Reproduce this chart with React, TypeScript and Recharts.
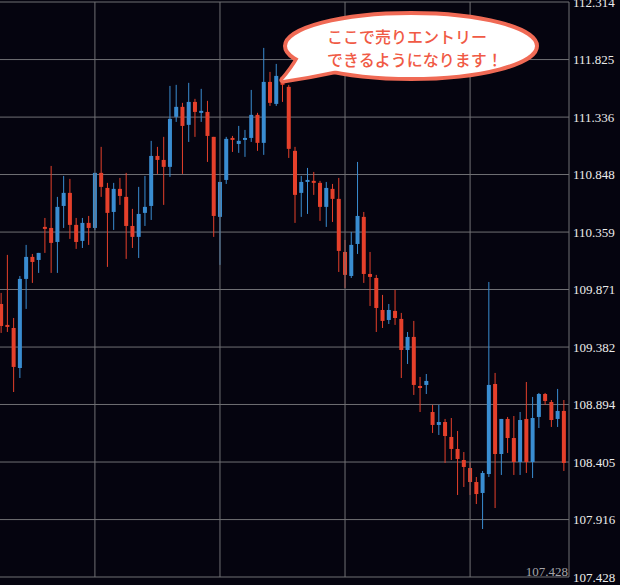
import React from 'react';
import { BarChart, Bar, XAxis, YAxis, CartesianGrid, ReferenceLine } from 'recharts';

// USD/JPY style candles
const opens = [
  109.748, 109.570, 109.544, 109.204, 109.961, 110.148, 110.122, 110.403, 110.394, 110.275,
  110.581, 110.692, 110.420, 110.284, 110.437, 110.394, 110.862, 110.734, 110.530, 110.726,
  110.658, 110.411, 110.318, 110.522, 110.581, 111.006, 110.972, 110.913, 111.338, 111.423,
  111.270, 111.465, 111.372, 111.380, 111.168, 110.488, 110.802, 111.159, 111.108, 111.142,
  111.159, 111.355, 111.117, 111.635, 111.448, 111.678, 111.593, 111.049, 110.692, 110.785,
  110.794, 110.777, 110.573, 110.726, 110.641, 110.190, 109.986, 110.258, 110.488, 110.003,
  109.969, 109.697, 109.612, 109.689, 109.621, 109.357, 109.468, 109.051, 109.060, 108.830,
  108.720, 108.745, 108.618, 108.516, 108.422, 108.354, 108.235, 108.142, 108.303, 109.068,
  108.473, 108.771, 108.609, 108.405, 108.771, 108.405, 108.788, 108.983, 108.915, 108.771,
  108.839,
];

const highs = [
  109.842, 110.165, 109.629, 109.986, 110.250, 110.173, 110.182, 110.479, 110.921, 110.658,
  110.836, 110.811, 110.479, 110.479, 110.496, 110.862, 111.083, 110.777, 110.777, 110.819,
  110.862, 110.556, 110.743, 110.836, 111.134, 111.083, 111.168, 111.601, 111.610, 111.457,
  111.627, 111.491, 111.576, 111.474, 111.168, 110.785, 111.168, 111.176, 111.261, 111.227,
  111.567, 111.372, 111.924, 111.720, 111.788, 111.680, 111.610, 111.083, 110.836, 110.904,
  110.870, 110.794, 110.785, 110.768, 110.819, 110.292, 110.360, 110.955, 110.530, 110.190,
  109.995, 109.825, 109.748, 109.867, 109.672, 109.510, 109.604, 109.128, 109.153, 108.890,
  108.890, 108.771, 108.779, 108.669, 108.490, 108.405, 108.278, 108.329, 109.935, 109.162,
  108.771, 108.788, 108.796, 108.830, 109.085, 108.958, 108.992, 108.992, 108.932, 109.026,
  108.932,
];

const lows = [
  109.502, 109.510, 109.000, 109.119, 109.706, 109.927, 110.012, 110.182, 110.012, 110.012,
  110.394, 110.301, 110.216, 110.224, 110.250, 110.377, 110.658, 110.063, 110.377, 110.590,
  110.131, 110.224, 110.139, 110.411, 110.462, 110.853, 110.590, 110.828, 111.295, 110.853,
  111.125, 111.168, 111.295, 110.955, 110.318, 110.080, 110.768, 111.040, 111.032, 110.998,
  111.125, 111.049, 111.015, 111.431, 111.431, 111.465, 110.989, 110.437, 110.488, 110.513,
  110.675, 110.454, 110.403, 110.445, 110.020, 109.884, 109.969, 110.173, 109.927, 109.731,
  109.510, 109.544, 109.578, 109.570, 109.119, 109.238, 108.975, 108.830, 108.983, 108.652,
  108.635, 108.397, 108.422, 108.125, 108.193, 108.125, 108.048, 107.836, 108.278, 108.014,
  108.295, 108.482, 108.295, 108.295, 108.312, 108.269, 108.694, 108.890, 108.703, 108.703,
  108.329,
];

const closes = [
  109.561, 109.553, 109.213, 109.961, 110.148, 110.105, 110.182, 110.386, 110.267, 110.573,
  110.692, 110.420, 110.275, 110.437, 110.394, 110.862, 110.743, 110.522, 110.726, 110.666,
  110.411, 110.318, 110.513, 110.573, 111.006, 110.972, 110.913, 111.321, 111.423, 111.261,
  111.465, 111.380, 111.389, 111.176, 110.496, 110.785, 111.151, 111.142, 111.134, 111.159,
  111.355, 111.117, 111.635, 111.457, 111.686, 111.610, 111.066, 110.675, 110.785, 110.802,
  110.777, 110.573, 110.734, 110.641, 110.199, 109.995, 110.250, 110.496, 110.003, 109.978,
  109.714, 109.604, 109.697, 109.629, 109.357, 109.468, 109.060, 109.034, 109.094, 108.720,
  108.745, 108.626, 108.516, 108.431, 108.363, 108.235, 108.133, 108.312, 109.060, 108.473,
  108.771, 108.609, 108.405, 108.762, 108.405, 108.779, 108.983, 108.924, 108.762, 108.839,
  108.397,
];

const priceTicks = [
  107.428, 107.916, 108.405, 108.894, 109.382, 109.871,
  110.359, 110.848, 111.336, 111.825, 112.314,
];
const priceMin = 107.428;
const priceMax = 112.314;

// candle indexes where the vertical time grid lines fall
const gridTicks = [15, 35, 55, 75];

const balloonLines = ['ここで売りエントリー', 'できるようになります！'];

const BG = '#05040f';
const RED = '#e5402b';
const BLUE = '#3a8dd1';
const GRID = '#707074';
const SERIF = '"Liberation Serif", "DejaVu Serif", serif';

const data = opens.map((open, i) => ({
  i,
  open,
  high: highs[i],
  low: lows[i],
  close: closes[i],
}));

const Candle = (props: any) => {
  const { x, y, width, height, payload } = props;
  if (!payload || height == null) return null;
  const { open, close, high, low } = payload;
  const color = close >= open ? BLUE : RED;
  const top = Math.min(y, y + height);
  const h = Math.abs(height);
  const ratio = high - low > 0 ? h / (high - low) : 0;
  const yOf = (v: number) => top + (high - v) * ratio;
  const cx = x + width / 2;
  const bodyTop = yOf(Math.max(open, close));
  const bodyH = Math.max(1.5, yOf(Math.min(open, close)) - bodyTop);
  return (
    <g>
      <line x1={cx} x2={cx} y1={top} y2={top + h} stroke={color} strokeWidth={1} />
      <rect x={cx - 2} y={bodyTop} width={4} height={bodyH} fill={color} />
    </g>
  );
};

const Balloon = () => (
  <svg
    width={620}
    height={585}
    style={{ position: 'absolute', left: 0, top: 0, pointerEvents: 'none' }}
  >
    <path
      d="M300,56 Q292,70 283,80 Q310,76 338,70 Z"
      fill="#fff"
      stroke="#f06a55"
      strokeWidth={7}
      strokeLinejoin="round"
    />
    <ellipse cx={411} cy={46} rx={126} ry={33} fill="#fff" stroke="#f06a55" strokeWidth={4} />
    <path d="M300,56 Q292,70 283,80 Q310,76 338,70 Z" fill="#fff" />
    {balloonLines.map((t, k) => (
      <text
        key={k}
        x={327}
        y={43 + k * 23}
        fill="#f05a45"
        fontSize={16}
        fontWeight={500}
        fontFamily='"Noto Sans CJK JP", "Noto Sans", sans-serif'
      >
        {t}
      </text>
    ))}
  </svg>
);

export default function App() {
  return (
    <div
      style={{
        position: 'absolute',
        left: 0,
        top: 0,
        width: 620,
        height: 585,
        background: BG,
        overflow: 'hidden',
      }}
    >
      <div style={{ position: 'absolute', left: -2, top: 0 }}>
        <BarChart
          width={622}
          height={585}
          data={data}
          margin={{ top: 2, right: 0, left: 0, bottom: 0 }}
          barCategoryGap="10%"
        >
          <CartesianGrid stroke={GRID} strokeWidth={1} vertical={false} />
          <XAxis
            dataKey="i"
            height={8}
            tick={false}
            tickLine={false}
            axisLine={false}
            padding={{ left: 0, right: 2 }}
          />
          <YAxis
            orientation="right"
            width={51}
            domain={[priceMin, priceMax]}
            ticks={priceTicks}
            interval={0}
            allowDataOverflow
            tickFormatter={(v: number) => v.toFixed(3)}
            tickLine={false}
            tickSize={0}
            tickMargin={4}
            axisLine={{ stroke: GRID }}
            tick={{ fill: '#ececec', fontSize: 13, fontFamily: SERIF }}
          />
          {gridTicks.map((t) => (
            <ReferenceLine key={t} x={t} stroke={GRID} strokeWidth={1} />
          ))}
          <ReferenceLine
            y={priceMin}
            stroke="transparent"
            label={{
              value: priceMin.toFixed(3),
              position: 'insideBottomRight',
              offset: 1,
              fill: '#a4a4a8',
              fontSize: 13,
              fontFamily: SERIF,
            }}
          />
          <Bar
            dataKey={(d: any) => [d.low, d.high]}
            shape={(p: any) => <Candle {...p} />}
            isAnimationActive={false}
          />
        </BarChart>
      </div>
      <Balloon />
    </div>
  );
}
